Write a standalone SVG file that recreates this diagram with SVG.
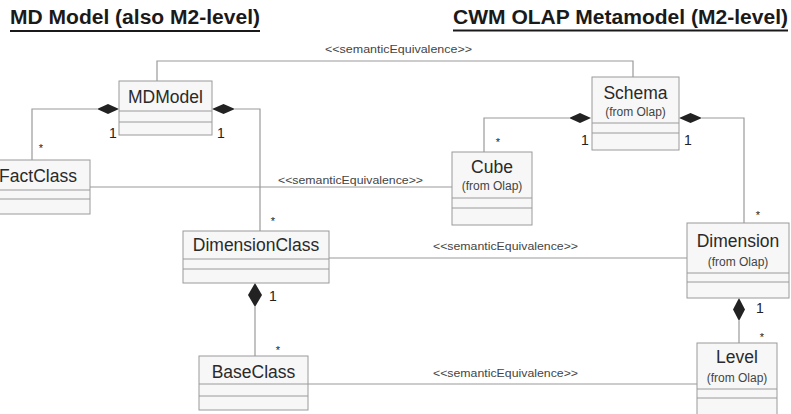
<svg xmlns="http://www.w3.org/2000/svg" width="791" height="414" viewBox="0 0 791 414">
<style>
.box{fill:#f7f7f7;stroke:#9a9a9a;stroke-width:1}
.sep{stroke:#9a9a9a;stroke-width:1}
.name{font-family:"Liberation Sans",Arial,sans-serif;font-size:17.5px;fill:#2a2a2a;text-anchor:middle}
.from{font-family:"Liberation Sans",Arial,sans-serif;font-size:12px;fill:#444;text-anchor:middle}
.conn{fill:none;stroke:#9a9a9a;stroke-width:1.2}
.dia{fill:#222;stroke:none}
.sem{font-family:"Liberation Sans",Arial,sans-serif;font-size:10.5px;fill:#444}
.mult{font-family:"Liberation Sans",Arial,sans-serif;font-size:14px;fill:#222;text-anchor:middle}
.star{font-family:"Liberation Sans",Arial,sans-serif;font-size:11px;fill:#222;text-anchor:middle}
.title{font-family:"Liberation Sans",Arial,sans-serif;font-size:20px;font-weight:bold;fill:#1a1a1a}
.ul{stroke:#1a1a1a;stroke-width:2}
</style>
<rect width="791" height="414" fill="#ffffff"/>
<g id="titles">
<text class="title" x="10" y="24" textLength="250" lengthAdjust="spacingAndGlyphs">MD Model (also M2-level)</text>
<line class="ul" x1="10" y1="31" x2="260" y2="31"/>
<text class="title" x="453" y="24" textLength="335" lengthAdjust="spacingAndGlyphs">CWM OLAP Metamodel (M2-level)</text>
<line class="ul" x1="453" y1="30.5" x2="788" y2="30.5"/>
</g>
<g id="connectors">
<polyline class="conn" points="157,81 157,61 633,61 633,77"/>
<text class="sem" x="325" y="53" textLength="147" lengthAdjust="spacingAndGlyphs">&lt;&lt;semanticEquivalence&gt;&gt;</text>
<polyline class="conn" points="97,109 32,109 32,160"/>
<polygon class="dia" points="97,109 108,104 119,109 108,114"/>
<polyline class="conn" points="235,109 260,109 260,231"/>
<polygon class="dia" points="212,109 223.5,104 235,109 223.5,114"/>
<line class="conn" x1="90" y1="187" x2="452" y2="187"/>
<text class="sem" x="278" y="184" textLength="145" lengthAdjust="spacingAndGlyphs">&lt;&lt;semanticEquivalence&gt;&gt;</text>
<polyline class="conn" points="569,118 484,118 484,152"/>
<polygon class="dia" points="569,118 580,113 591,118 580,123"/>
<polyline class="conn" points="702,118 744,118 744,223"/>
<polygon class="dia" points="679,118 690.5,113 702,118 690.5,123"/>
<line class="conn" x1="329" y1="258" x2="687" y2="258"/>
<text class="sem" x="433" y="250" textLength="145" lengthAdjust="spacingAndGlyphs">&lt;&lt;semanticEquivalence&gt;&gt;</text>
<line class="conn" x1="255" y1="307" x2="255" y2="356"/>
<polygon class="dia" points="255,283 262,295 255,307 248,295"/>
<line class="conn" x1="308" y1="384" x2="697" y2="384"/>
<text class="sem" x="433" y="377" textLength="145" lengthAdjust="spacingAndGlyphs">&lt;&lt;semanticEquivalence&gt;&gt;</text>
<line class="conn" x1="739" y1="321" x2="739" y2="343"/>
<polygon class="dia" points="739,298 745,309.5 739,321 733,309.5"/>
<text class="star" x="41" y="152">*</text>
<text class="mult" x="113" y="138">1</text>
<text class="mult" x="221" y="138">1</text>
<text class="star" x="273" y="225">*</text>
<text class="mult" x="273" y="301">1</text>
<text class="star" x="278" y="354">*</text>
<text class="star" x="498" y="146">*</text>
<text class="mult" x="585" y="145">1</text>
<text class="mult" x="688" y="145">1</text>
<text class="star" x="758" y="219">*</text>
<text class="mult" x="760" y="313">1</text>
<text class="star" x="762" y="341">*</text>
</g>
<g id="MDModel">
<rect class="box" x="119" y="81" width="93" height="54"/>
<line class="sep" x1="119" y1="111" x2="212" y2="111"/>
<line class="sep" x1="119" y1="122" x2="212" y2="122"/>
<text class="name" x="165.5" y="103">MDModel</text>
</g>
<g id="FactClass">
<rect class="box" x="-14" y="160" width="104" height="54"/>
<line class="sep" x1="-14" y1="190" x2="90" y2="190"/>
<line class="sep" x1="-14" y1="199" x2="90" y2="199"/>
<text class="name" x="38" y="182">FactClass</text>
</g>
<g id="DimensionClass">
<rect class="box" x="183" y="231" width="146" height="52"/>
<line class="sep" x1="183" y1="259" x2="329" y2="259"/>
<line class="sep" x1="183" y1="269" x2="329" y2="269"/>
<text class="name" x="256" y="251">DimensionClass</text>
</g>
<g id="BaseClass">
<rect class="box" x="199" y="356" width="109" height="54"/>
<line class="sep" x1="199" y1="384" x2="308" y2="384"/>
<line class="sep" x1="199" y1="396" x2="308" y2="396"/>
<text class="name" x="253.5" y="378">BaseClass</text>
</g>
<g id="Schema">
<rect class="box" x="592" y="77" width="87" height="73"/>
<line class="sep" x1="592" y1="123" x2="679" y2="123"/>
<line class="sep" x1="592" y1="133" x2="679" y2="133"/>
<text class="name" x="635.5" y="99">Schema</text>
<text class="from" x="635.5" y="116">(from Olap)</text>
</g>
<g id="Cube">
<rect class="box" x="452" y="152" width="80" height="73"/>
<line class="sep" x1="452" y1="198" x2="532" y2="198"/>
<line class="sep" x1="452" y1="208" x2="532" y2="208"/>
<text class="name" x="492" y="173">Cube</text>
<text class="from" x="492" y="190">(from Olap)</text>
</g>
<g id="Dimension">
<rect class="box" x="687" y="223" width="102" height="75"/>
<line class="sep" x1="687" y1="273" x2="789" y2="273"/>
<line class="sep" x1="687" y1="282" x2="789" y2="282"/>
<text class="name" x="738" y="247">Dimension</text>
<text class="from" x="738" y="266">(from Olap)</text>
</g>
<g id="Level">
<rect class="box" x="697" y="343" width="80" height="75"/>
<line class="sep" x1="697" y1="389" x2="777" y2="389"/>
<line class="sep" x1="697" y1="398" x2="777" y2="398"/>
<text class="name" x="737" y="363">Level</text>
<text class="from" x="737" y="382">(from Olap)</text>
</g>
</svg>
